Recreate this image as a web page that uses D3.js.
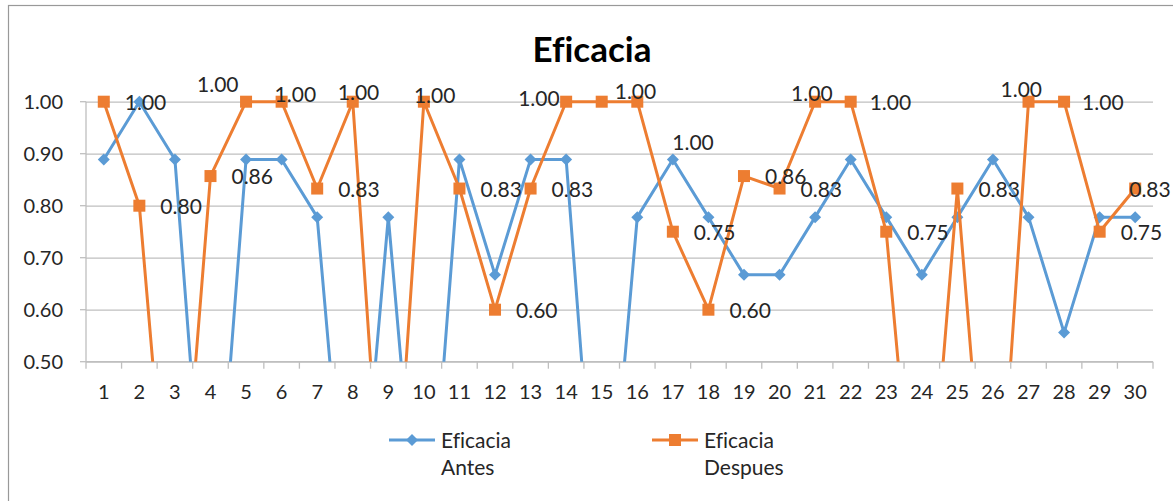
<!DOCTYPE html>
<html>
<head>
<meta charset="utf-8">
<script src="https://cdn.jsdelivr.net/npm/d3@7"></script>
<style>
  html, body { margin: 0; padding: 0; background: #fff; }
  svg { display: block; }
  text { font-family: Lato, "Open Sans", sans-serif; fill: #262626; font-variant-ligatures: none; }
</style>
</head>
<body>
<svg id="chart" width="1173" height="501"></svg>
<script>
// Categories (evaluations 1..30)
const categories = ["1","2","3","4","5","6","7","8","9","10","11","12","13","14","15",
                    "16","17","18","19","20","21","22","23","24","25","26","27","28","29","30"];

// Efficacy before
const eficaciaAntes = [0.889,1.000,0.889,0.000,0.889,0.889,0.778,0.000,0.778,0.000,
                       0.889,0.667,0.889,0.889,0.000,0.778,0.889,0.778,0.667,0.667,
                       0.778,0.889,0.778,0.667,0.778,0.889,0.778,0.556,0.778,0.778];

// Efficacy after
const eficaciaDespues = [1.000,0.800,0.000,0.857,1.000,1.000,0.833,1.000,0.000,1.000,
                         0.833,0.600,0.833,1.000,1.000,1.000,0.750,0.600,0.857,0.833,
                         1.000,1.000,0.750,0.000,0.833,0.000,1.000,1.000,0.750,0.833];

const yTicks = [0.50, 0.60, 0.70, 0.80, 0.90, 1.00];
const seriesNames = [["Eficacia", "Antes"], ["Eficacia", "Despues"]];
const chartTitle = "Eficacia";

const BLUE = "#5B9BD5", ORANGE = "#ED7D31", GRID = "#BFBFBF";

const svg = d3.select("#chart");

// outer chart border
svg.append("rect")
  .attr("x", 8.5).attr("y", 5.5)
  .attr("width", 1180).attr("height", 520)
  .attr("fill", "none").attr("stroke", "#999999").attr("stroke-width", 1.2);

const plot = { left: 86, right: 1153, top: 101.7, bottom: 361.7 };

const x = d3.scaleBand().domain(categories).range([plot.left, plot.right]);
const y = d3.scaleLinear().domain([0.5, 1.0]).range([plot.bottom, plot.top]);
const cx = c => x(c) + x.bandwidth() / 2;

// title
svg.append("text")
  .attr("x", 592).attr("y", 62)
  .attr("text-anchor", "middle")
  .style("font-weight", "bold").style("font-size", "35px")
  .style("fill", "#000")
  .text(chartTitle);

// horizontal gridlines
svg.append("g")
  .attr("transform", `translate(${plot.left},0)`)
  .call(d3.axisLeft(y).tickValues(yTicks).tickFormat(d3.format(".2f"))
        .tickSize(-(plot.right - plot.left)).tickPadding(23))
  .call(g => g.select(".domain").remove())
  .call(g => g.selectAll("line").attr("stroke", GRID).attr("stroke-width", 1.3))
  .call(g => g.selectAll("text").style("font-size", "20px").style("fill", "#262626"));

// short outer ticks on the y axis
svg.append("g").selectAll("line").data(yTicks).join("line")
  .attr("x1", plot.left - 6).attr("x2", plot.left)
  .attr("y1", d => y(d)).attr("y2", d => y(d))
  .attr("stroke", GRID).attr("stroke-width", 1.3);

// y axis line
svg.append("line")
  .attr("x1", plot.left).attr("x2", plot.left)
  .attr("y1", plot.top).attr("y2", plot.bottom)
  .attr("stroke", GRID).attr("stroke-width", 1.3);

// x axis with ticks on category boundaries
const xAxis = svg.append("g").attr("transform", `translate(0,${plot.bottom})`);
xAxis.append("line")
  .attr("x1", plot.left).attr("x2", plot.right)
  .attr("stroke", GRID).attr("stroke-width", 1.3);
xAxis.selectAll("line.tick").data(categories.concat(["end"])).join("line")
  .attr("class", "tick")
  .attr("x1", (d, i) => i < categories.length ? x(d) : plot.right)
  .attr("x2", (d, i) => i < categories.length ? x(d) : plot.right)
  .attr("y1", 0).attr("y2", 7)
  .attr("stroke", GRID).attr("stroke-width", 1.3);
xAxis.selectAll("text").data(categories).join("text")
  .attr("x", d => cx(d)).attr("y", 37)
  .attr("text-anchor", "middle")
  .style("font-size", "20px")
  .text(d => d);

// plot-area clipping
svg.append("clipPath").attr("id", "plotClip")
  .append("rect")
  .attr("x", plot.left).attr("y", 0)
  .attr("width", plot.right - plot.left).attr("height", plot.bottom);

const line = d3.line().x((d, i) => cx(categories[i])).y(d => y(d));
const layer = svg.append("g").attr("clip-path", "url(#plotClip)");

const diamond = s => `M0,${-s}L${s},0L0,${s}L${-s},0Z`;

// series: before
layer.append("path").datum(eficaciaAntes)
  .attr("d", line).attr("fill", "none")
  .attr("stroke", BLUE).attr("stroke-width", 3).attr("stroke-linejoin", "round");
layer.selectAll("path.mA").data(eficaciaAntes.map((v, i) => [categories[i], v]).filter(d => d[1] >= 0.5))
  .join("path").attr("class", "mA")
  .attr("transform", d => `translate(${cx(d[0])},${y(d[1])})`)
  .attr("d", diamond(6)).attr("fill", BLUE);

// series: after
layer.append("path").datum(eficaciaDespues)
  .attr("d", line).attr("fill", "none")
  .attr("stroke", ORANGE).attr("stroke-width", 3).attr("stroke-linejoin", "round");
layer.selectAll("rect.mD").data(eficaciaDespues.map((v, i) => [categories[i], v]).filter(d => d[1] >= 0.5))
  .join("rect").attr("class", "mD")
  .attr("x", d => cx(d[0]) - 6).attr("y", d => y(d[1]) - 6)
  .attr("width", 12).attr("height", 12).attr("fill", ORANGE);

// data labels for the "after" series (right of point, some nudged)
const nudge = {
  "5": [-49, -17], "6": [-7, -7], "8": [-15, -9], "10": [-10, -6],
  "14": [-48, -3], "15": [13, -10], "16": [35, 41], "21": [-24, -8],
  "22": [19, 1], "27": [-28, -12], "28": [18, 1], "30": [-6, 1]
};
svg.append("g").selectAll("text")
  .data(eficaciaDespues.map((v, i) => [categories[i], v]).filter(d => d[1] >= 0.5))
  .join("text")
  .attr("x", d => cx(d[0]) + (nudge[d[0]] ? nudge[d[0]][0] : 21))
  .attr("y", d => y(d[1]) + (nudge[d[0]] ? nudge[d[0]][1] : 1))
  .attr("dy", "0.35em")
  .style("font-size", "21px")
  .text(d => d3.format(".2f")(d[1]));

// legend
const legend = svg.append("g");
const legendItems = [
  { x: 389, color: BLUE, shape: "diamond", name: seriesNames[0] },
  { x: 652, color: ORANGE, shape: "square", name: seriesNames[1] }
];
legendItems.forEach(it => {
  const g = legend.append("g").attr("transform", `translate(${it.x},440)`);
  g.append("line").attr("x1", 0).attr("x2", 46).attr("stroke", it.color).attr("stroke-width", 3);
  if (it.shape === "diamond") {
    g.append("path").attr("transform", "translate(23,0)").attr("d", diamond(6)).attr("fill", it.color);
  } else {
    g.append("rect").attr("x", 17).attr("y", -6).attr("width", 12).attr("height", 12).attr("fill", it.color);
  }
  const t = g.append("text").attr("x", 52).attr("y", 8).style("font-size", "21px");
  t.append("tspan").attr("x", 52).attr("y", 8).text(it.name[0]);
  t.append("tspan").attr("x", 52).attr("y", 35).text(it.name[1]);
});
</script>
</body>
</html>
